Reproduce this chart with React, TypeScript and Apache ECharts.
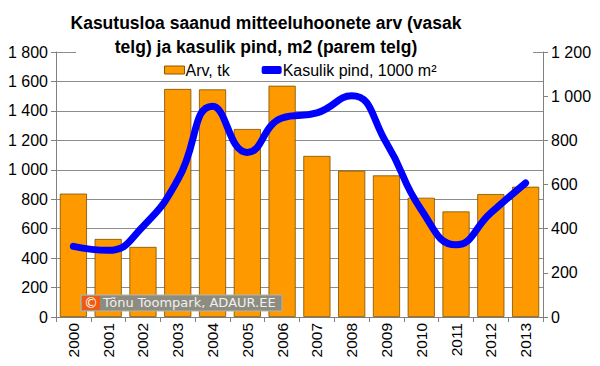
import React, { useEffect, useRef } from "react";
import * as echarts from "echarts";

const years = ["2000","2001","2002","2003","2004","2005","2006","2007","2008","2009","2010","2011","2012","2013"];
const arvTk = [838, 530, 476, 1549, 1546, 1277, 1571, 1094, 994, 962, 810, 717, 835, 885];
const kasulikPind = [320, 302, 410, 621, 954, 745, 901, 924, 1002, 788, 486, 327, 471, 607];
const leftTicks = { min: 0, max: 1800, interval: 200 };
const rightTicks = { min: 0, max: 1200, interval: 200 };

const fmt = (v: number) => {
  const s = String(Math.round(v));
  return s.replace(/\B(?=(\d{3})+(?!\d))/g, " ");
};

export default function App() {
  const ref = useRef<HTMLDivElement>(null);
  useEffect(() => {
    if (!ref.current) return;
    const chart = echarts.init(ref.current, null, { renderer: "svg" });
    const font = "'Liberation Sans', Arial, sans-serif";
    const wmFont = "'DejaVu Sans', sans-serif";
    chart.setOption({
      animation: false,
      backgroundColor: "#ffffff",
      textStyle: { fontFamily: font },
      title: {
        text: "Kasutusloa saanud mitteeluhoonete arv (vasak\ntelg) ja kasulik pind, m2 (parem telg)",
        left: 261,
        textAlign: "center",
        top: 6,
        textStyle: { fontSize: 17.5, fontWeight: "bold", color: "#000", lineHeight: 24, fontFamily: font },
      },
      legend: {
        top: 60,
        left: 160,
        itemGap: 32,
        itemWidth: 20,
        itemHeight: 8,
        backgroundColor: "#ffffff",
        padding: [2, 4],
        z: 10,
        textStyle: { fontSize: 16, color: "#000", fontFamily: font, padding: [0, 0, 0, -4] },
        data: [
          { name: "Arv, tk", icon: "rect", itemStyle: { color: "#FF9900", borderColor: "#8a5a00", borderWidth: 1 } },
          { name: "Kasulik pind, 1000 m²", icon: "roundRect", itemStyle: { color: "#0000FF" } },
        ],
      },
      graphic: [
        { type: "rect", z: 5, shape: { x: 76, y: 49, width: 457, height: 8 }, style: { fill: "#ffffff" } },
        { type: "rect", z: 50, shape: { x: 81, y: 295, width: 201, height: 16 }, style: { fill: "#8c8c80", stroke: "#b4b4a8", lineWidth: 1 } },
        { type: "rect", z: 51, shape: { x: 82, y: 296, width: 18, height: 14 }, style: { fill: "#f05a10" } },
        { type: "text", z: 52, x: 84, y: 296, style: { text: "©", fill: "#ffffff", fontSize: 14, fontFamily: wmFont } },
        { type: "text", z: 52, x: 103, y: 296, style: { text: "Tõnu Toompark, ADAUR.EE", fill: "#f0f0f0", fontSize: 13, fontFamily: wmFont } },
      ],
      grid: { left: 56, right: 57, top: 52, bottom: 49 },
      xAxis: {
        type: "category",
        data: years,
        axisLine: { lineStyle: { color: "#808080", width: 1 } },
        axisTick: { show: true, length: 5, lineStyle: { color: "#808080" } },
        axisLabel: { rotate: 90, fontSize: 15.5, color: "#000", margin: 6, fontFamily: font },
      },
      yAxis: [
        {
          type: "value",
          ...leftTicks,
          position: "left",
          axisLine: { show: true, lineStyle: { color: "#808080" } },
          axisTick: { show: true, length: 5, lineStyle: { color: "#808080" } },
          splitLine: { show: true, lineStyle: { color: "#8c8c8c", width: 1 } },
          axisLabel: { fontSize: 16, color: "#000", margin: 8, formatter: fmt, fontFamily: font },
        },
        {
          type: "value",
          ...rightTicks,
          position: "right",
          axisLine: { show: true, lineStyle: { color: "#808080" } },
          axisTick: { show: true, length: 5, lineStyle: { color: "#808080" } },
          splitLine: { show: false },
          axisLabel: { fontSize: 16, color: "#000", margin: 8, formatter: fmt, fontFamily: font },
        },
      ],
      series: [
        {
          name: "Arv, tk",
          type: "bar",
          data: arvTk,
          yAxisIndex: 0,
          barCategoryGap: "22%",
          itemStyle: { color: "#FF9900", borderColor: "#7a5000", borderWidth: 0.8 },
          z: 2,
        },
        {
          name: "Kasulik pind, 1000 m²",
          type: "line",
          data: kasulikPind,
          yAxisIndex: 1,
          smooth: 0.5,
          showSymbol: false,
          symbol: "none",
          lineStyle: { color: "#0000FF", width: 7, cap: "round" },
          itemStyle: { color: "#0000FF" },
          z: 3,
        },
      ],
    });
    return () => chart.dispose();
  }, []);
  return <div ref={ref} style={{ width: 600, height: 366, position: "absolute", left: 0, top: 0 }} />;
}
